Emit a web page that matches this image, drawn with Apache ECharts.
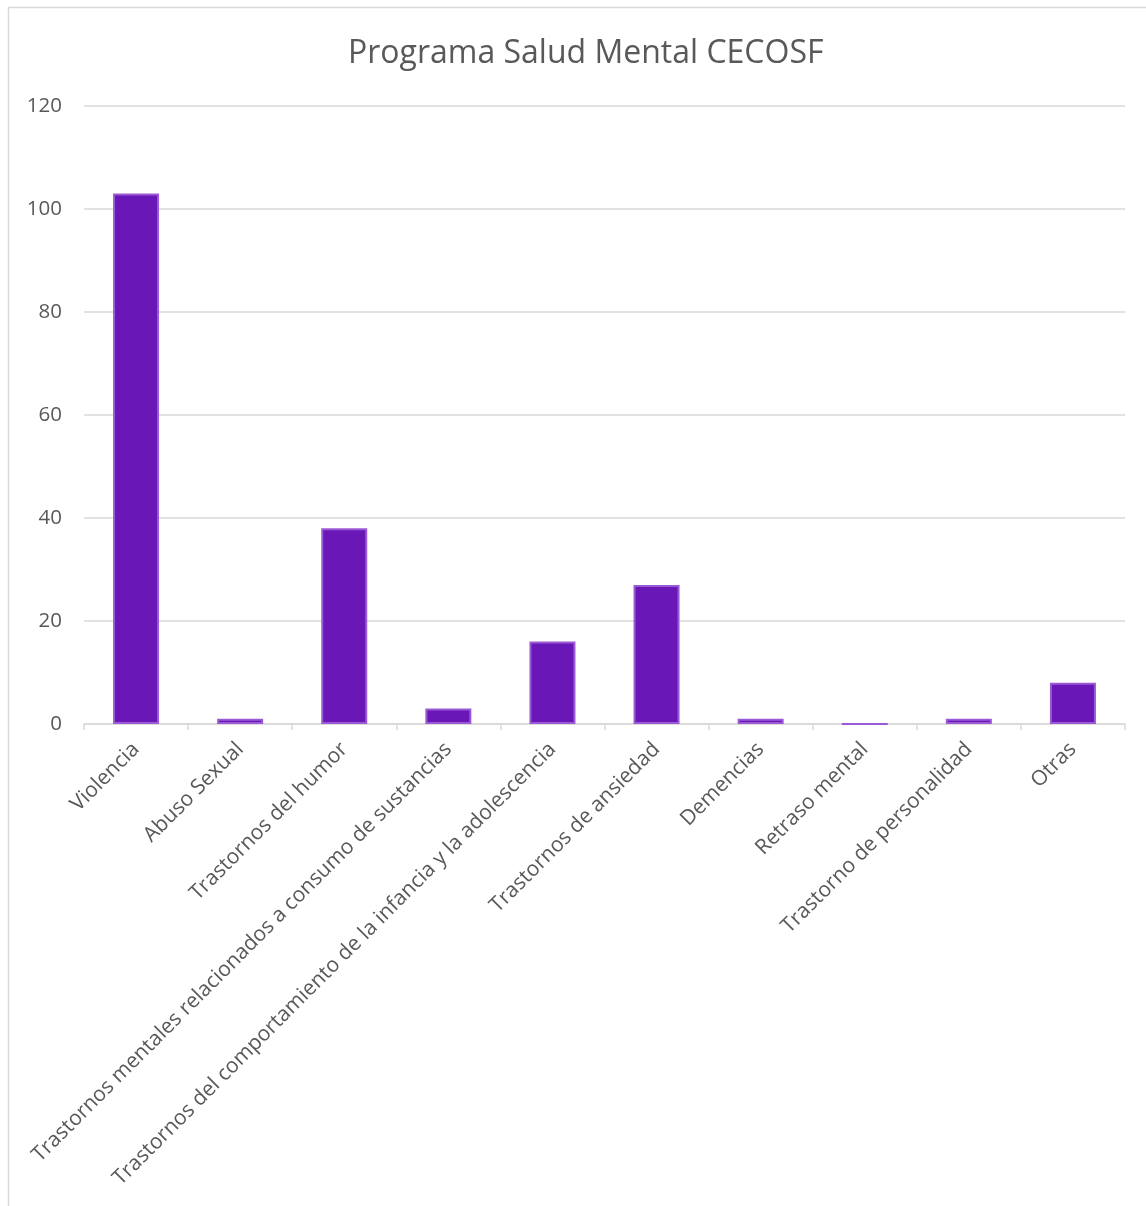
<!DOCTYPE html>
<html><head><meta charset="utf-8">
<script src="https://cdn.jsdelivr.net/npm/echarts@6/dist/echarts.min.js"></script>
<style>html,body{margin:0;padding:0;background:#fff}#c{width:1146px;height:1206px}</style>
</head><body><div id="c"></div>
<script>
const categories = ["Violencia","Abuso Sexual","Trastornos del humor","Trastornos mentales relacionados a consumo de sustancias","Trastornos del comportamiento de la infancia y la adolescencia","Trastornos de ansiedad","Demencias","Retraso mental","Trastorno de personalidad","Otras"];
const values = [103,1,38,3,16,27,1,0,1,8];
const yTicks = {min:0,max:120,interval:20};

const chart = echarts.init(document.getElementById('c'));
chart.setOption({
  animation:false,
  backgroundColor:'#fff',
  textStyle:{fontFamily:'Open Sans'},
  title:{text:'Programa Salud Mental CECOSF',left:343,top:33,
    textStyle:{fontFamily:'Open Sans',fontSize:32,fontWeight:'normal',color:'#595959'}},
  graphic:[{type:'rect',shape:{x:8.5,y:7.5,width:1200,height:1300},style:{fill:'none',stroke:'#d9d9d9',lineWidth:1.5},silent:true}],
  grid:{left:84,right:21,top:106,bottom:482,containLabel:false},
  xAxis:{type:'category',data:categories,
    axisLine:{lineStyle:{color:'#d9d9d9',width:1.5}},
    axisTick:{show:true,length:6,lineStyle:{color:'#d9d9d9',width:1.5}},
    axisLabel:{rotate:45,interval:0,color:'#595959',fontSize:21,margin:22,fontFamily:'Open Sans'}},
  yAxis:{type:'value',min:yTicks.min,max:yTicks.max,interval:yTicks.interval,
    axisLine:{show:false},axisTick:{show:false},
    splitLine:{lineStyle:{color:'#d9d9d9',width:1.5}},
    axisLabel:{color:'#595959',fontSize:20.5,margin:22,fontFamily:'Open Sans'}},
  series:[{type:'bar',data:values,barWidth:46,
    itemStyle:{color:'#6a17b8',borderColor:'#9a5ad6',borderWidth:2}}]
});
</script></body></html>
